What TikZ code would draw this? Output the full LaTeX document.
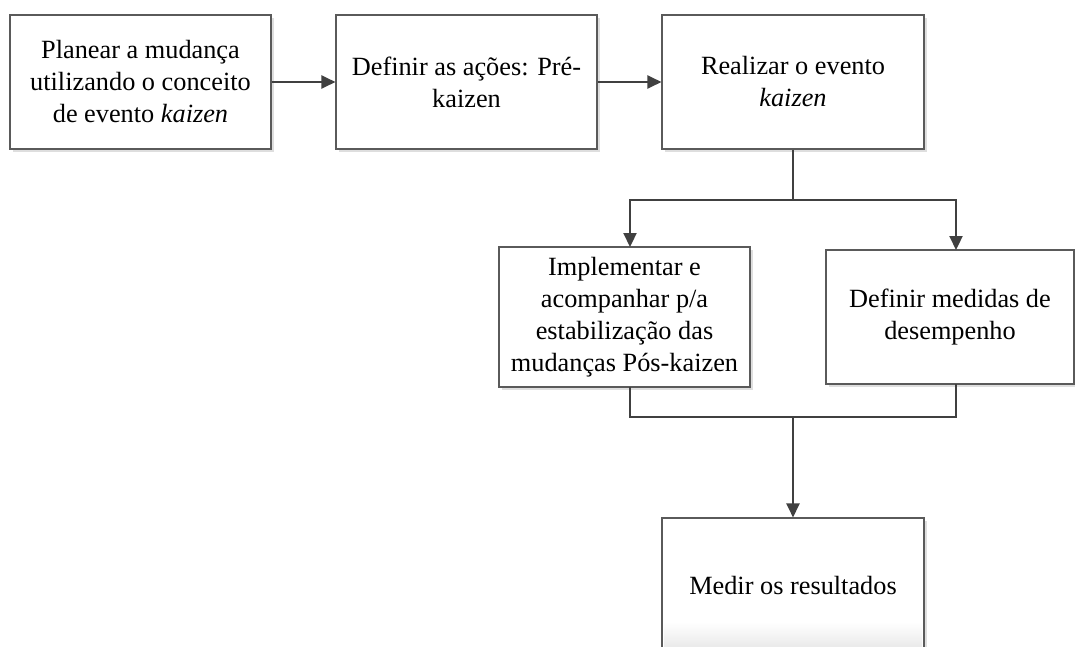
\documentclass[tikz,border=0pt]{standalone}
\usepackage{fontspec}
\setmainfont{Liberation Serif}
\usetikzlibrary{arrows.meta,shadows}
\definecolor{edge}{HTML}{5A5A5A}
\definecolor{wire}{HTML}{404040}
\tikzset{
  box/.style={draw=edge, line width=1.1pt, fill=white, align=center,
    inner sep=0pt, font=\fontsize{26.3}{32}\selectfont,
    drop shadow={shadow xshift=3pt, shadow yshift=-3pt, fill=black!13, opacity=1}},
  conn/.style={draw=wire, line width=2.2pt},
  arr/.style={conn, -{Triangle[length=14pt,width=13pt]}}
}
\begin{document}
\begin{tikzpicture}[x=1pt,y=-1pt]
  \fill[white] (0,0) rectangle (1075,646);
  \useasboundingbox (0,0) rectangle (1075,646);
  \clip (0,0) rectangle (1075,646);

  % top row
  \node[box, minimum width=261pt, minimum height=134pt] (plan) at (140.5,82)
    {Planear a mudança\\utilizando o conceito\\de evento \textit{kaizen}};
  \node[box, minimum width=261pt, minimum height=134pt] (acoes) at (466.5,82)
    {Definir as ações: Pré-\\kaizen};
  \node[box, minimum width=262pt, minimum height=134pt] (evento) at (793,82)
    {Realizar o evento\\\textit{kaizen}};

  % middle row
  \node[box, minimum width=251pt, minimum height=140pt] (impl) at (624.5,317)
    {Implementar e\\acompanhar p/a\\estabilização das\\mudanças Pós-kaizen};
  \node[box, minimum width=248pt, minimum height=134pt] (medidas) at (950,317)
    {Definir medidas de\\desempenho};

  % bottom box, running past the lower edge
  \node[box, minimum width=261pt, minimum height=140pt] (medir) at (793,588)
    {};
  \shade[top color=white, bottom color=black!8] (664,622) rectangle (922,646);
  \node[font=\fontsize{26.3}{32}\selectfont] (medirtxt) at (793,585) {Medir os resultados};
  \draw[edge, line width=1.1pt] (medir.south west) -- (medir.north west) -- (medir.north east) -- (medir.south east);

  % junction points
  \coordinate (split) at (793,200);
  \coordinate (implin) at (630,247);
  \coordinate (medin) at (956,250);
  \coordinate (implout) at (630,387);
  \coordinate (medout) at (956,384);
  \coordinate (merge) at (793,417);

  % connectors
  \draw[arr] (plan.east) -- (acoes.west);
  \draw[arr] (acoes.east) -- (evento.west);
  \draw[conn] (evento.south) -- (split);
  \draw[arr] (split) -| (implin);
  \draw[arr] (split) -| (medin);
  \draw[conn] (implout) |- (merge);
  \draw[conn] (medout) |- (merge);
  \draw[arr] (merge) -- (medir.north);
\end{tikzpicture}
\end{document}
